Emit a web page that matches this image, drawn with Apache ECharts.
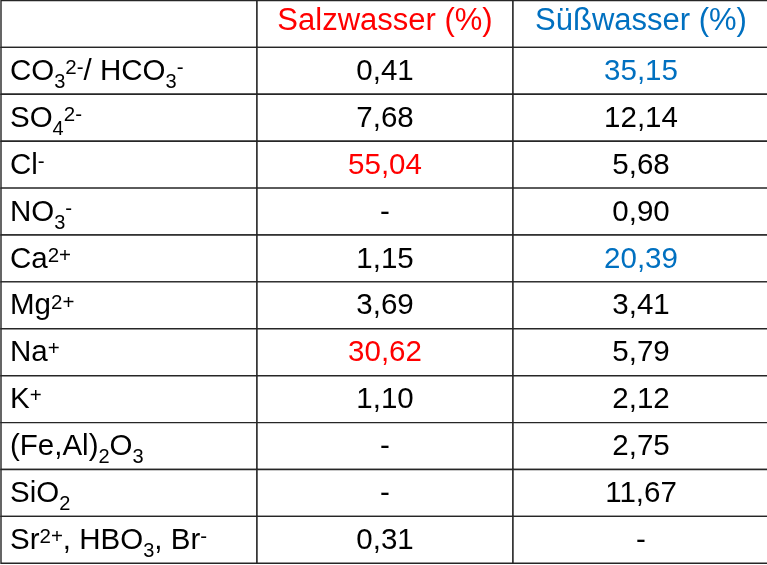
<!DOCTYPE html>
<html>
<head>
<meta charset="utf-8">
<script src="https://cdn.jsdelivr.net/npm/echarts@6/dist/echarts.min.js"></script>
<style>
html, body { margin: 0; padding: 0; background: #fff; overflow: hidden; }
#main { width: 771px; height: 565px; }
</style>
</head>
<body>
<div id="main"></div>
<script>
// table content
var headers = ['', 'Salzwasser (%)', 'Süßwasser (%)'];
var ions = [
    '{m|CO}{sub|3}{sup|2-}{m|/ HCO}{sub|3}{sup|-}',
    '{m|SO}{sub|4}{sup|2-}',
    '{m|Cl}{sup|-}',
    '{m|NO}{sub|3}{sup|-}',
    '{m|Ca}{sup|2+}',
    '{m|Mg}{sup|2+}',
    '{m|Na}{sup|+}',
    '{m|K}{sup|+}',
    '{m|(Fe,Al)}{sub|2}{m|O}{sub|3}',
    '{m|SiO}{sub|2}',
    '{m|Sr}{sup|2+}{m|, HBO}{sub|3}{m|, Br}{sup|-}'
];
var salzwasser = [0.41, 7.68, 55.04, null, 1.15, 3.69, 30.62, 1.10, null, null, 0.31];
var suesswasser = [35.15, 12.14, 5.68, 0.90, 20.39, 3.41, 5.79, 2.12, 2.75, 11.67, null];
var salzMarked = [2, 6];   // rows printed in red
var suessMarked = [0, 4];  // rows printed in blue

var RED = '#ff0000';
var BLUE = '#0070c0';
var FONT = '"Liberation Sans", Arial, sans-serif';

var rowNames = ['head'].concat(ions.map(function (d, i) { return 'r' + i; }));

function fmt(v) {
    return v == null ? '-' : v.toFixed(2).replace('.', ',');
}

var cells = [];
for (var r = 0; r < rowNames.length; r++) {
    for (var c = 0; c < headers.length; c++) {
        cells.push([c, r]);
    }
}

var chart = echarts.init(document.getElementById('main'));

chart.setOption({
    animation: false,
    backgroundColor: '#fff',
    // the last column runs a little past the right edge of the picture
    grid: {
        left: 1,
        right: 2,
        top: 0.5,
        bottom: 1.7
    },
    xAxis: {
        type: 'category',
        data: [0, 1, 2],
        show: false
    },
    yAxis: {
        type: 'category',
        data: rowNames,
        inverse: true,
        show: false
    },
    series: [{
        type: 'custom',
        data: cells,
        renderItem: function (params, api) {
            var col = api.value(0), row = api.value(1);
            var p = api.coord([col, row]);
            var s = api.size([1, 1]);
            var w = s[0], h = s[1];
            var x0 = p[0] - w / 2, y0 = p[1] - h / 2;

            var text = '', color = '#000', rich = null, size = 29.5;
            var ty = p[1] + 1;
            if (row === 0) {
                text = headers[col];
                color = col === 1 ? RED : BLUE;
                size = 31;
                ty = p[1] - 2;
            } else if (col === 0) {
                text = ions[row - 1];
                rich = {
                    m: { fontSize: 29.5, fontFamily: FONT, fill: '#000', lineHeight: 41, height: 41, verticalAlign: 'middle' },
                    sub: { fontSize: 20, fontFamily: FONT, fill: '#000', lineHeight: 20, height: 20, verticalAlign: 'bottom' },
                    sup: { fontSize: 20.5, fontFamily: FONT, fill: '#000', lineHeight: 34, height: 34, verticalAlign: 'top' }
                };
            } else if (col === 1) {
                text = fmt(salzwasser[row - 1]);
                if (salzMarked.indexOf(row - 1) >= 0) color = RED;
            } else {
                text = fmt(suesswasser[row - 1]);
                if (suessMarked.indexOf(row - 1) >= 0) color = BLUE;
            }

            var style = {
                text: text,
                x: col === 0 ? x0 + 9 : p[0],
                y: ty,
                fill: color,
                fontSize: size,
                fontFamily: FONT,
                align: col === 0 ? 'left' : 'center',
                verticalAlign: 'middle'
            };
            if (rich) style.rich = rich;

            return {
                type: 'group',
                children: [{
                    type: 'rect',
                    shape: { x: x0, y: y0, width: w, height: h },
                    style: { fill: '#fff', stroke: '#262626', lineWidth: 1.4 }
                }, {
                    type: 'text',
                    style: style
                }]
            };
        }
    }]
});
</script>
</body>
</html>
